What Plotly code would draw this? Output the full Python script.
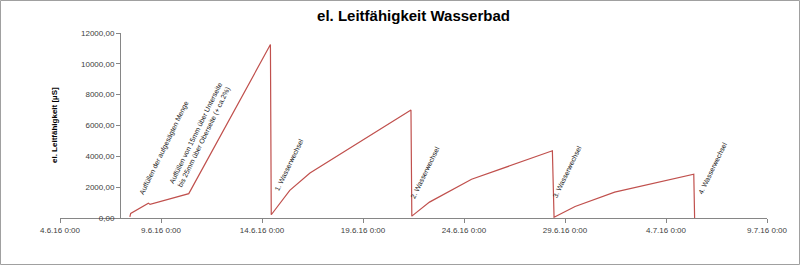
import plotly.graph_objects as go

# ---- data ----
times = [
    "2016-06-07 11:00", "2016-06-07 12:00", "2016-06-08 09:00", "2016-06-08 11:00",
    "2016-06-10 09:00", "2016-06-14 10:00", "2016-06-14 11:00", "2016-06-15 09:00",
    "2016-06-16 09:00", "2016-06-21 09:00", "2016-06-21 10:00", "2016-06-22 07:00",
    "2016-06-24 09:00", "2016-06-28 09:00", "2016-06-28 11:00", "2016-06-29 12:00",
    "2016-07-01 11:00", "2016-07-05 09:00", "2016-07-05 10:00",
]
values = [
    80, 300, 965, 880,
    1580, 11250, 210, 1790,
    2920, 7010, 120, 1030,
    2510, 4360, 50, 750,
    1680, 2840, 0,
]
note_texts = [
    "Auffüllen der aufgesägten Menge",
    "Auffüllen von 15mm über Unterseite<br>bis 25mm über Oberseite (+ ca.2%)",
    "1. Wasserwechsel",
    "2. Wasserwechsel",
    "3. Wasserwechsel",
    "4. Wasserwechsel",
]
note_times = ["2016-06-09 04:00", "2016-06-10 22:00", "2016-06-15 08:00",
              "2016-06-22 02:00", "2016-06-29 03:00", "2016-07-06 07:00"]
note_values = [4530, 5380, 3490, 2930, 2990, 3230]
y_ticks = [0, 2000, 4000, 6000, 8000, 10000, 12000]
x_range = ["2016-06-04 00:00", "2016-07-09 00:00"]

W, H = 800, 265
L, R, T, B = 60, 33, 33, 47
pw, ph = W - L - R, H - T - B

FAM = "Liberation Sans Narrow, Liberation Sans, Arial"

fig = go.Figure()
fig.add_trace(go.Scatter(x=times, y=values, mode="lines",
                         line=dict(color="#C0504D", width=1.2), showlegend=False,
                         hoverinfo="skip"))

font_small = dict(family=FAM, size=8, color="#404040")

for t, v, txt in zip(note_times, note_values, note_texts):
    fig.add_annotation(x=t, y=v, xref="x", yref="y", text=txt, showarrow=False,
                       textangle=-64, font=dict(family=FAM, size=7, color="#202020"))

# y axis title
fig.add_annotation(x=(48 - L) / pw, y=0.5, xref="paper", yref="paper",
                   text="<b>el. Leitfähigkeit [µS]</b>", textangle=-90, showarrow=False,
                   font=dict(family=FAM, size=8, color="#000000"))

# outer frame
fig.add_shape(type="rect", xref="paper", yref="paper",
              x0=(0.5 - L) / pw, x1=(W - 0.5 - L) / pw,
              y0=-(B - 0.5) / ph, y1=(ph + T - 0.5) / ph,
              line=dict(color="#A0A0A0", width=1))

fig.update_layout(
    width=W, height=H,
    margin=dict(l=L, r=R, t=T, b=B),
    paper_bgcolor="white", plot_bgcolor="white",
    separators=",.",
    title=dict(text="<b>el. Leitfähigkeit Wasserbad</b>", x=0.5, xref="paper", y=1 - 16 / H,
               yanchor="middle", xanchor="center",
               font=dict(family=FAM, size=15, color="#000000")),
    xaxis=dict(type="date", range=x_range, showgrid=False, zeroline=False,
               showline=True, linecolor="#868686", linewidth=1,
               ticks="outside", ticklen=4, tickcolor="#868686",
               dtick=5 * 86400000, tick0="2016-06-04", tickformat="%-d.%-m.%y %-H:%M",
               tickfont=font_small),
    yaxis=dict(range=[0, 12000], showgrid=False, zeroline=False,
               showline=True, linecolor="#868686", linewidth=1,
               ticks="outside", ticklen=4, tickcolor="#868686",
               tickvals=y_ticks, tickformat=".2f", tickfont=font_small,
               anchor="free", position=(120 - L) / pw),
)

fig.write_html("out.html")
